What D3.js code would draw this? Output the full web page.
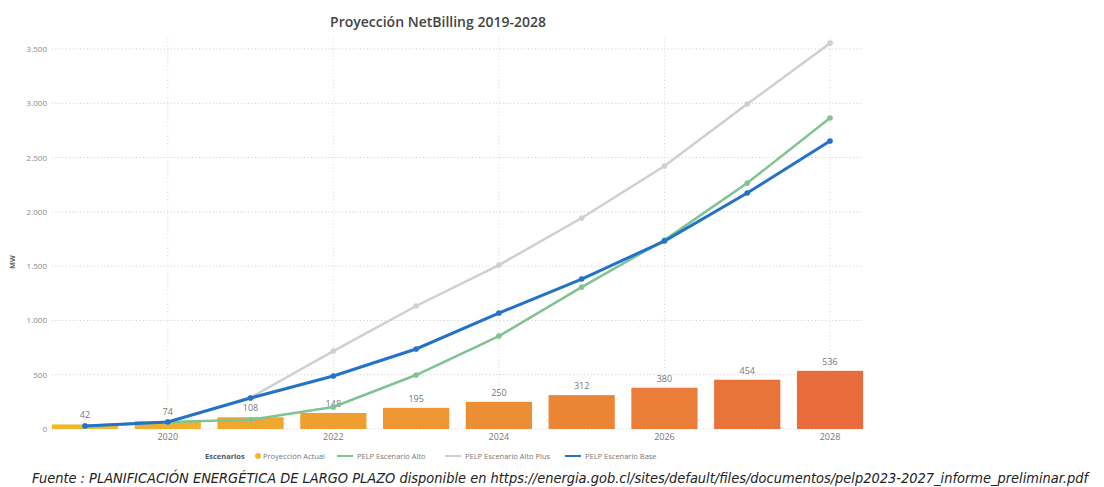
<!DOCTYPE html>
<html>
<head>
<meta charset="utf-8">
<script src="https://cdn.jsdelivr.net/npm/d3@7"></script>
<style>
  body { margin: 0; background: #fff; }
  text { font-family: "Open Sans", "Noto Sans", sans-serif; }
</style>
</head>
<body>
<svg id="chart" width="1104" height="487"></svg>
<script>
var years = ["2019","2020","2021","2022","2023","2024","2025","2026","2027","2028"]
  , tickYears = ["2020","2022","2024","2026","2028"]
  , actual = [42, 74, 108, 148, 195, 250, 312, 380, 454, 536]
  , alto = [28, 64, 85, 203, 497, 856, 1307, 1740, 2265, 2864]
  , altoPlus = [28, 64, 290, 718, 1133, 1510, 1943, 2422, 2993, 3554]
  , base = [28, 64, 285, 488, 737, 1068, 1381, 1731, 2173, 2652]
  , yTicks = [0, 500, 1000, 1500, 2000, 2500, 3000, 3500];

var series = [
  {name: "PELP Escenario Alto Plus", values: altoPlus, color: "#cfcfcf", w: 2.5},
  {name: "PELP Escenario Alto", values: alto, color: "#7fc393", w: 2.5},
  {name: "PELP Escenario Base", values: base, color: "#2472c8", w: 3}
];

var svg = d3.select("#chart");

var x = d3.scaleBand().domain(years).range([43.6, 871.4]).paddingInner(0.2).paddingOuter(0.1);
var y = d3.scaleLinear().domain([0, 3500]).range([429, 49]);
var cx = function(d) { return x(d) + x.bandwidth() / 2; };

// title
svg.append("text")
    .attr("x", 438).attr("y", 27)
    .style("text-anchor", "middle")
    .style("font-size", "14px")
    .style("font-weight", "600")
    .style("fill", "#444")
    .text("Proyección NetBilling 2019-2028");

// gridlines
svg.append("g").selectAll("line")
    .data(yTicks).enter().append("line")
    .attr("x1", x(years[0])).attr("x2", x(years[9]) + x.bandwidth())
    .attr("y1", function(d) { return y(d); })
    .attr("y2", function(d) { return y(d); })
    .style("stroke", "#c8c8c8")
    .style("stroke-dasharray", "1,2.5");

svg.append("g").selectAll("line")
    .data(tickYears).enter().append("line")
    .attr("x1", cx).attr("x2", cx)
    .attr("y1", 38).attr("y2", y(0))
    .style("stroke", "#d6d6d6")
    .style("stroke-dasharray", "1,2.5");

// y axis labels
var yAxis = svg.append("g")
    .attr("transform", "translate(47,0)")
    .call(d3.axisLeft(y).tickValues(yTicks).tickSize(0).tickPadding(0)
      .tickFormat(function(d) { return d3.format(",")(d).replace(/,/g, "."); }));
yAxis.select(".domain").remove();
yAxis.selectAll("text")
    .style("font-size", "8px")
    .style("fill", "#8a8a8a")
    .style("font-family", "'Open Sans', sans-serif");

svg.append("text")
    .attr("transform", "translate(15,262) rotate(-90)")
    .style("text-anchor", "middle")
    .style("font-size", "7px")
    .style("font-weight", "bold")
    .style("fill", "#666")
    .text("MW");

// x axis labels
var xAxis = svg.append("g")
    .attr("transform", "translate(0," + y(0) + ")")
    .call(d3.axisBottom(x).tickValues(tickYears).tickSize(0).tickPadding(5));
xAxis.select(".domain").remove();
xAxis.selectAll("text")
    .style("font-size", "9px")
    .style("fill", "#777")
    .style("font-family", "'Open Sans', sans-serif");

// bars
var barColor = d3.scaleLinear().domain([0, 9]).range(["#f2b829", "#e86c3c"]);
svg.append("g").selectAll("rect")
    .data(actual).enter().append("rect")
    .attr("x", function(d, i) { return x(years[i]); })
    .attr("width", x.bandwidth())
    .attr("y", function(d) { return y(d); })
    .attr("height", function(d) { return y(0) - y(d); })
    .style("fill", function(d, i) { return barColor(i); });

svg.append("g").selectAll("text")
    .data(actual).enter().append("text")
    .attr("x", function(d, i) { return cx(years[i]); })
    .attr("y", function(d) { return y(d) - 6; })
    .style("text-anchor", "middle")
    .style("font-size", "9px")
    .style("fill", "#777")
    .text(function(d) { return d; });

// lines
var line = d3.line()
    .x(function(d, i) { return cx(years[i]); })
    .y(function(d) { return y(d); });

series.forEach(function(s) {
  svg.append("path")
      .datum(s.values)
      .attr("d", line)
      .style("fill", "none")
      .style("stroke", s.color)
      .style("stroke-width", s.w);
  svg.append("g").selectAll("circle")
      .data(s.values).enter().append("circle")
      .attr("cx", function(d, i) { return cx(years[i]); })
      .attr("cy", function(d) { return y(d); })
      .attr("r", 2.8)
      .style("fill", s.color);
});

// legend
var leg = svg.append("g").attr("transform", "translate(0,456)")
  .style("font-size", "7.5px");
leg.append("text").attr("x", 205).attr("y", 3)
    .style("font-weight", "bold").style("fill", "#555").text("Escenarios");
leg.append("circle").attr("cx", 258).attr("cy", 0).attr("r", 3).style("fill", "#f2b829");
leg.append("text").attr("x", 263).attr("y", 3).style("fill", "#777").text("Proyección Actual");

var legItems = [
  {name: series[1].name, color: series[1].color, x: 337},
  {name: series[0].name, color: series[0].color, x: 445},
  {name: series[2].name, color: series[2].color, x: 565}
];
legItems.forEach(function(it) {
  leg.append("line").attr("x1", it.x).attr("x2", it.x + 16)
      .attr("y1", 0).attr("y2", 0)
      .style("stroke", it.color).style("stroke-width", 2);
  leg.append("text").attr("x", it.x + 20).attr("y", 3)
      .style("fill", "#777").text(it.name);
});

// source
svg.append("text")
    .attr("x", 32).attr("y", 483)
    .attr("textLength", 1056)
    .attr("lengthAdjust", "spacingAndGlyphs")
    .style("font-family", "'Liberation Sans Narrow', 'DejaVu Sans Condensed', sans-serif")
    .style("font-style", "italic")
    .style("font-size", "14px")
    .style("fill", "#222")
    .text("Fuente : PLANIFICACIÓN ENERGÉTICA DE LARGO PLAZO disponible en https://energia.gob.cl/sites/default/files/documentos/pelp2023-2027_informe_preliminar.pdf");
</script>
</body>
</html>
